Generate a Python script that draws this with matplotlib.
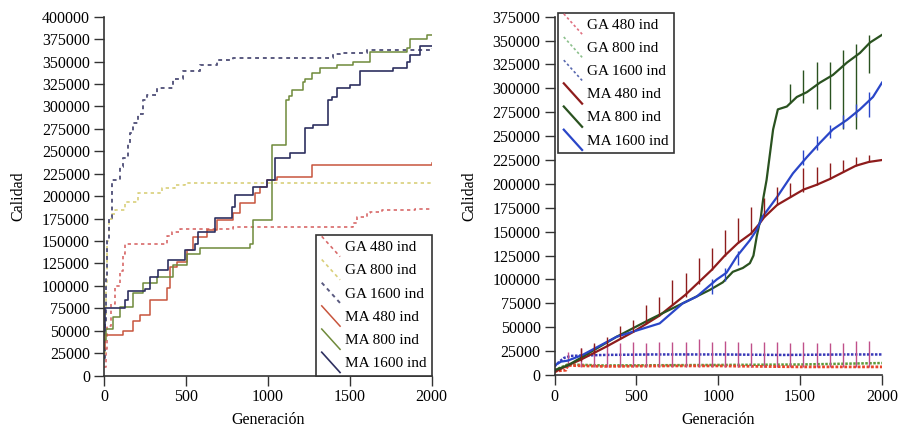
import numpy as np
import matplotlib.pyplot as plt
from matplotlib.lines import Line2D
from matplotlib.legend_handler import HandlerBase

plt.rcParams['font.family'] = ['Liberation Serif', 'DejaVu Serif']
plt.rcParams['font.size'] = 11.5

#Left panel: best quality so far (step curves)
ga480_gen = [0, 10, 20, 40, 70, 98, 116, 128, 384, 415, 463, 787, 1519, 1543, 1604, 1622, 1700, 1900, 2000]
ga480_val = [10000, 30000, 55000, 80000, 100000, 117000, 135000, 147000, 155000, 160000, 163000, 165000, 170000, 177000, 181000, 182000, 184000, 186000, 186000]
ga800_gen = [0, 5, 10, 20, 30, 47, 67, 128, 207, 354, 433, 494, 2000]
ga800_val = [25000, 60000, 100000, 150000, 175000, 180000, 184000, 193000, 203000, 209000, 212000, 215000, 215000]
ga1600_gen = [0, 5, 10, 20, 30, 47, 98, 116, 146, 159, 177, 207, 238, 262, 323, 421, 482, 585, 689, 787, 1396, 1439, 1604, 2000]
ga1600_val = [20000, 60000, 110000, 150000, 176000, 218000, 232000, 243000, 258000, 270000, 281000, 292000, 307000, 313000, 320000, 330000, 339000, 346000, 352000, 354000, 358000, 360000, 363000, 365000]
ma480_gen = [0, 5, 116, 177, 220, 280, 384, 402, 445, 506, 545, 628, 689, 787, 830, 920, 951, 994, 1055, 1268, 2000]
ma480_val = [30000, 45000, 50000, 61000, 67000, 84000, 98000, 121000, 126000, 140000, 154000, 162000, 173000, 181000, 192000, 203000, 210000, 218000, 221000, 235000, 237000]
ma800_gen = [0, 10, 55, 98, 177, 238, 323, 421, 506, 585, 890, 908, 1029, 1114, 1130, 1147, 1214, 1226, 1268, 1317, 1420, 1519, 1622, 1848, 1866, 1970, 2000]
ma800_val = [40000, 52000, 65000, 76000, 92000, 103000, 110000, 123000, 136000, 142000, 147000, 173000, 257000, 307000, 312000, 318000, 327000, 331000, 337000, 343000, 346000, 349000, 361000, 365000, 375000, 380000, 380000]
ma1600_gen = [0, 6, 128, 146, 250, 280, 330, 390, 494, 555, 573, 677, 780, 800, 908, 994, 1043, 1134, 1226, 1274, 1366, 1390, 1420, 1500, 1561, 1762, 1848, 1866, 1927, 2000]
ma1600_val = [50000, 75000, 84000, 94000, 96000, 110000, 118000, 129000, 140000, 147000, 160000, 176000, 188000, 201000, 210000, 218000, 242000, 248000, 276000, 279000, 307000, 311000, 320000, 324000, 339000, 343000, 349000, 357000, 367000, 367000]

#Right panel: average quality (base curves + periodic spikes)
r_ga480_gen = [0, 70, 80, 300, 700, 1000, 1500, 2000]
r_ga480_val = [4000, 5000, 10000, 9000, 9500, 9500, 8500, 8500]
r_ga800_gen = [0, 40, 80, 300, 1000, 1500, 2000]
r_ga800_val = [5000, 8000, 11000, 10000, 10500, 11000, 12500]
r_ga1600_gen = [0, 30, 60, 100, 300, 600, 1000, 1400, 1800, 2000]
r_ga1600_val = [9000, 14000, 18000, 20000, 21000, 21500, 21500, 21000, 21500, 21500]
r_ga_spk_gen = [80, 160, 240, 320, 400, 480, 560, 640, 720, 800, 880, 960, 1040, 1120, 1200, 1280, 1360, 1440, 1520, 1600, 1680, 1760, 1840, 1920]
r_ga_spk_top = [24000, 28000, 31000, 34000, 33000, 35000, 34000, 35000, 35000, 35000, 37500, 35000, 36000, 35000, 34000, 35000, 35000, 34000, 35000, 34000, 33000, 34000, 36000, 36000]

r_ma480_gen = [0, 80, 160, 320, 480, 640, 800, 960, 1040, 1120, 1200, 1250, 1280, 1360, 1440, 1520, 1600, 1680, 1760, 1840, 1920, 2000]
r_ma480_val = [3000, 10000, 16000, 30000, 45000, 62000, 84000, 110000, 125000, 138000, 148000, 158000, 165000, 178000, 186000, 194000, 199000, 205000, 212000, 219000, 223000, 225000]
r_ma480_spk_gen = [160, 240, 320, 400, 480, 560, 640, 720, 800, 880, 960, 1040, 1120, 1200, 1280, 1360, 1440, 1520, 1600, 1680, 1760, 1840, 1920]
r_ma480_spk_lo = [15000, 22000, 30000, 38000, 45000, 53000, 62000, 73000, 82000, 95000, 110000, 125000, 138000, 148000, 165000, 178000, 186000, 192000, 199000, 205000, 212000, 219000, 223000]
r_ma480_spk_hi = [28000, 33000, 40000, 51000, 58000, 73000, 82000, 99000, 107000, 122000, 133000, 152000, 164000, 176000, 185000, 197000, 201000, 217000, 218000, 222000, 225000, 228000, 230000]

r_ma800_gen = [0, 80, 171, 379, 581, 783, 948, 1028, 1089, 1150, 1193, 1215, 1235, 1260, 1275, 1295, 1335, 1364, 1419, 1480, 1541, 1621, 1700, 1786, 1865, 1927, 2000]
r_ma800_val = [5000, 10000, 19000, 40000, 58000, 75000, 89000, 97000, 108000, 112000, 117000, 125000, 145000, 165000, 185000, 204000, 257000, 278000, 281000, 291000, 296000, 306000, 314000, 327000, 337000, 348000, 356000]
r_ma800_spk_gen = [1440, 1520, 1600, 1680, 1760, 1840, 1920]
r_ma800_spk_lo = [285000, 285000, 278000, 278000, 257000, 257000, 316000]
r_ma800_spk_hi = [305000, 319000, 328000, 328000, 340000, 346000, 356000]

r_ma1600_gen = [0, 40, 80, 171, 379, 642, 783, 868, 991, 1050, 1113, 1193, 1235, 1272, 1358, 1456, 1541, 1621, 1700, 1786, 1865, 1945, 2000]
r_ma1600_val = [10000, 14000, 15000, 21000, 40000, 54000, 75000, 82000, 100000, 107000, 124000, 141000, 152000, 166000, 186000, 211000, 228000, 243000, 257000, 267000, 278000, 291000, 306000]
r_ma1600_spk_gen = [960, 1040, 1120, 1520, 1600, 1680, 1760, 1840, 1920]
r_ma1600_spk_lo = [85000, 98000, 115000, 220000, 235000, 248000, 258000, 270000, 270000]
r_ma1600_spk_hi = [100000, 112000, 130000, 235000, 250000, 262000, 272000, 284000, 296000]

labels = ['GA 480 ind', 'GA 800 ind', 'GA 1600 ind', 'MA 480 ind', 'MA 800 ind', 'MA 1600 ind']


class DiagHandler(HandlerBase):
    def create_artists(self, legend, orig_handle, xdescent, ydescent, width, height, fontsize, trans):
        line = Line2D([-xdescent, width - xdescent], [1.4 * height - ydescent, -0.5 * height - ydescent])
        line.update_from(orig_handle)
        line.set_drawstyle('default')
        line.set_transform(trans)
        return [line]


def StyleAxes(ax, ymax):
    for s in ['top', 'right']:
        ax.spines[s].set_visible(False)
    for s in ['left', 'bottom']:
        ax.spines[s].set_linewidth(1.2)
        ax.spines[s].set_color('#333333')
    ax.set_xlim(0, 2000)
    ax.set_ylim(0, ymax)
    ax.set_xticks([0, 500, 1000, 1500, 2000])
    ax.set_yticks(np.arange(0, ymax + 1, 25000))
    ax.tick_params(direction='out', length=7, width=1, color='#333333', labelsize=11.5, pad=3)
    ax.set_xlabel('Generación', labelpad=5)
    ax.set_ylabel('Calidad', labelpad=11)


def AddLegend(ax, handles, **kw):
    leg = ax.legend(handles, labels, borderaxespad=0, handler_map={Line2D: DiagHandler()},
                    fancybox=False, framealpha=1, edgecolor='#333333', labelspacing=0.62,
                    handlelength=1.2, handletextpad=0.3, borderpad=0.35, fontsize=11, **kw)
    leg.get_frame().set_linewidth(1.2)
    return leg


fig = plt.figure(figsize=(8.98, 4.37), dpi=100)
ax1 = fig.add_axes([104 / 898, 1 - 375.5 / 437, 327.5 / 898, 358.8 / 437])
ax2 = fig.add_axes([554.5 / 898, 1 - 375 / 437, 327.5 / 898, 358.3 / 437])

dot = (0, (2, 2))
h1 = []
h1 += ax1.plot(ga480_gen, ga480_val, drawstyle='steps-post', color='#d86a6a', lw=1.2, ls=dot)
h1 += ax1.plot(ga800_gen, ga800_val, drawstyle='steps-post', color='#d9cf7a', lw=1.2, ls=dot)
h1 += ax1.plot(ga1600_gen, ga1600_val, drawstyle='steps-post', color='#5a5a80', lw=1.4, ls=dot)
h1 += ax1.plot(ma480_gen, ma480_val, drawstyle='steps-post', color='#c8553d', lw=1.1)
h1 += ax1.plot(ma800_gen, ma800_val, drawstyle='steps-post', color='#6f8a3a', lw=1.1)
h1 += ax1.plot(ma1600_gen, ma1600_val, drawstyle='steps-post', color='#2e3060', lw=1.2)
StyleAxes(ax1, 400000)
AddLegend(ax1, h1, loc='lower right', bbox_to_anchor=(1.0, 0.0))

dens = (0, (1, 0.6))
h2 = []
h2 += ax2.plot(r_ga1600_gen, r_ga1600_val, color='#3a3ab8', lw=1.8, ls=dens)
h2 += ax2.plot(r_ga800_gen, r_ga800_val, color='#5c9a3a', lw=1.8, ls=dens)
h2 += ax2.plot(r_ga480_gen, r_ga480_val, color='#e8452c', lw=2.0, ls=dens)
ax2.vlines(r_ga_spk_gen, 8000, r_ga_spk_top, colors='#c0508a', lw=1.0)
h2 += ax2.plot(r_ma480_gen, r_ma480_val, color='#8e1c1c', lw=1.6)
h2 += ax2.plot(r_ma800_gen, r_ma800_val, color='#2a5220', lw=1.6)
h2 += ax2.plot(r_ma1600_gen, r_ma1600_val, color='#2a46c8', lw=1.6)
ax2.vlines(r_ma480_spk_gen, r_ma480_spk_lo, r_ma480_spk_hi, colors='#8e1c1c', lw=1.0)
ax2.vlines(r_ma800_spk_gen, r_ma800_spk_lo, r_ma800_spk_hi, colors='#2a5220', lw=1.0)
ax2.vlines(r_ma1600_spk_gen, r_ma1600_spk_lo, r_ma1600_spk_hi, colors='#2a46c8', lw=1.0)
StyleAxes(ax2, 375000)
# legend samples for the GA curves drawn as thin dotted lines
leg_h = [Line2D([], [], color='#e07080', lw=1.2, ls=(0, (1.5, 1.5))),
         Line2D([], [], color='#8cc08c', lw=1.2, ls=(0, (1.5, 1.5))),
         Line2D([], [], color='#5a6ab0', lw=1.2, ls=(0, (1.5, 1.5))),
         h2[3], h2[4], h2[5]]
AddLegend(ax2, leg_h, loc='upper left', bbox_to_anchor=(0.012, 1.011))

plt.savefig('out.png', dpi=100)
plt.close()
